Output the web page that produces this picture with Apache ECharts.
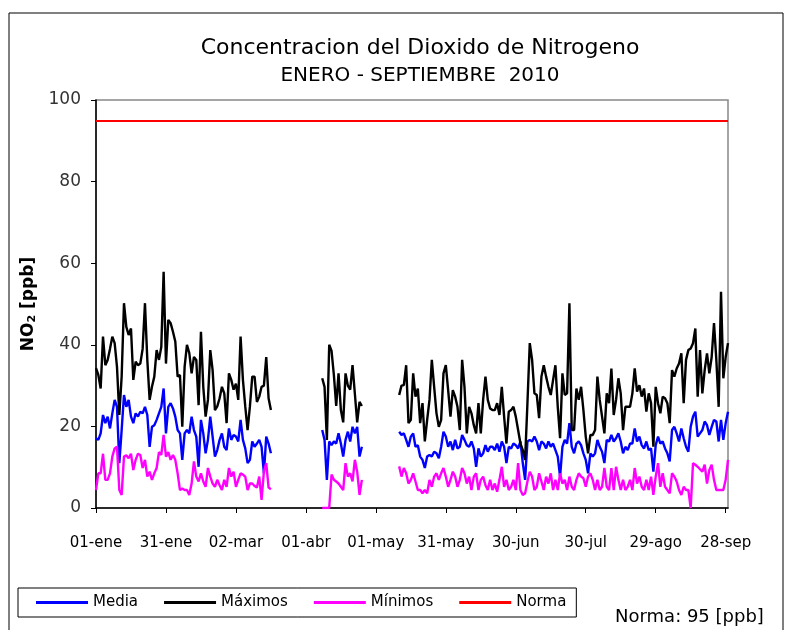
<!DOCTYPE html>
<html>
<head>
<meta charset="utf-8">
<script src="https://cdn.jsdelivr.net/npm/echarts@6/dist/echarts.min.js"></script>
<style>
  html, body { margin: 0; padding: 0; background: #fff; }
  #main { width: 787px; height: 630px; }
</style>
</head>
<body>
<div id="main"></div>
<script>
// dias desde 01-ene-2010 hasta 29-sep-2010
const startDate = new Date(2010, 0, 1);
const nDays = 272;
const monthNames = ['ene', 'feb', 'mar', 'abr', 'may', 'jun', 'jul', 'ago', 'sep'];
const tickLabels = ['01-ene', '31-ene', '02-mar', '01-abr', '01-may', '31-may', '30-jun', '30-jul', '29-ago', '28-sep'];

// primer dia (indice) de cada tramo con datos
const segStart = [0, 97, 130];

// Maximos
const maxEneMar = [34.3, 32.6, 29.3, 42, 35, 36.3, 39, 42, 40.4, 34.6,
  22.8, 32.2, 50.2, 44.4, 42.4, 44, 31.4, 35.9, 35, 35.4,
  39, 50.2, 36.3, 26.5, 29.7, 32.2, 38.7, 36.3, 39.5, 57.9,
  35.4, 46.1, 45.3, 43.2, 40.8, 32.2, 32.6, 19.9, 34.6, 40,
  38, 33, 37, 36.3, 25.2, 43.2, 29.7, 22.4, 26.5, 38.7,
  33.8, 24, 24.9, 26.9, 29.7, 28.1, 20.8, 33, 31.4, 29,
  30.5, 26.5, 42, 31.4, 24.9, 19.1, 24.9, 32.2, 32.2, 26,
  27.3, 29.7, 30, 37, 26.9, 24];
const maxAbr = [31.8, 29.7, 16.7, 40, 38.5, 32.6, 25, 33, 24, 21, 33, 30, 29, 35, 28, 21, 26, 25];
const maxMaySep = [27.7, 30,
  30.1, 35, 20.8, 21.6, 33, 27.3, 29.3, 20.8, 25.7, 16.3,
  21.6, 26.5, 36.3, 29.7, 23.2, 19.9, 21.6, 33, 35, 28.9,
  22.4, 28.9, 27.3, 24.8, 19.1, 36.3, 29.7, 18.3, 24.8, 23.2,
  20.3, 18.3, 25.7, 18.3, 26.5, 32.2, 26.5, 24.4, 24, 24,
  25.7, 22.8, 29.7, 22.4, 15.8, 23.6, 24, 24.8, 22.4, 19.1,
  15.8, 14.2, 11.8, 25.7, 40.4, 36.3, 28.1, 27.7, 22, 32.2,
  35, 32.2, 29.7, 27.7, 31.4, 35, 24.8, 17.1, 33, 27.7,
  28.1, 50.2,
  19.1, 19.1, 29.3, 26.5, 29.7, 24, 17.5, 13.4, 17.9, 17.9,
  19.1, 32.2, 26.5, 22.4, 18.3, 28.1, 25.7, 34.2, 22.8, 26.5,
  31.8, 28.1, 19.1, 24.8, 24.8, 24.8, 28.1, 34.2, 28.5, 30.1,
  27.3, 29.3, 23.6, 28.1, 25.7, 15, 29.7, 25.7, 23.2, 27.3,
  26.9, 25.7, 20.8, 33.8, 32.2, 34.2, 35.4, 37.9, 25.7, 36.3,
  38.7, 39.1, 40.4, 44, 27.3, 38.7, 28.1, 33.8, 37.9, 33,
  37, 45.3, 36.3, 24.8, 53, 31.8, 37, 40.4];

// Media
const medEneMar = [17.1, 16.7, 18.3, 22.8, 20.8, 22.4, 19.5, 23.2, 26.5, 24.8,
  11, 19.1, 27.7, 24.8, 26.5, 22.4, 20.8, 23.2, 22.4, 23.6,
  23.2, 24.8, 22.8, 15, 19.9, 20.3, 21.6, 23.2, 24.8, 29.3,
  18.3, 24.8, 25.7, 24.4, 22.4, 19.1, 18.3, 11.8, 18.3, 19.1,
  18.3, 22.4, 19.1, 17.5, 10.1, 21.6, 18.3, 13.4, 16.7, 22.4,
  17.5, 12.6, 14.2, 16.7, 18.3, 15, 14.2, 19.5, 16.7, 17.9,
  17.5, 16.3, 21.6, 16.7, 14.6, 11, 11.8, 16.3, 15, 15.8,
  16.7, 15, 8.5, 17.5, 15.8, 13.4];
const medAbr = [19.1, 16.7, 6.9, 16.3, 15.4, 16.3, 15.8, 18.3, 15.8, 12.6, 16.7, 18.7, 16.3, 19.9, 18.3, 19.9, 12.6, 15];
const medMaySep = [18.7, 17.9,
  18.3, 16.7, 15, 17.5, 18.3, 15, 15.4, 12.6, 11.8, 9.8,
  12.6, 13, 12.6, 13.8, 13.4, 12.2, 15, 18.7, 17.5, 15,
  16.3, 14.2, 16.7, 14.6, 15, 17.9, 16.7, 15.4, 15, 16.3,
  14.6, 10.1, 14.6, 12.6, 13.4, 15.4, 13.8, 15, 15, 14.2,
  15.8, 13.8, 16.3, 15, 11, 15, 14.6, 15.8, 15.4, 14.6,
  16.3, 11, 6.9, 16.3, 16.7, 16.3, 17.5, 16.3, 14.2, 16.3,
  15.8, 14.6, 16.3, 15, 15.8, 14.2, 12.6, 7.7, 15, 16.7,
  15.8, 20.8,
  15, 13.4, 15.8, 16.3, 15.4, 13.4, 11.8, 8.5, 13.4, 12.6,
  13.4, 16.7, 15, 13.8, 11, 16.7, 16.3, 17.9, 16.3, 17.1,
  18.3, 16.3, 13.4, 15, 14.2, 15.8, 15.8, 19.5, 16.3, 17.5,
  15.4, 14.6, 16.3, 14.2, 14.6, 8.9, 15.4, 17.5, 15.8, 16.3,
  14.6, 13.4, 11.4, 19.1, 19.9, 18.3, 16.3, 19.5, 17.1, 15,
  13.8, 19.9, 22.4, 23.6, 17.5, 18.3, 19.1, 21.2, 20.3, 17.9,
  19.9, 21.6, 21.2, 16.3, 21.6, 16.7, 20.8, 23.6];

// Minimos
const minEneMar = [4.4, 8.5, 8.5, 13.3, 6.9, 6.9, 8.5, 12.6, 14.6, 15,
  4.4, 3.2, 12.6, 12.9, 12.2, 13.3, 9.3, 11.8, 13.3, 13,
  9.8, 11.8, 7.7, 8.9, 6.9, 8.5, 9.8, 13.7, 13, 17.9,
  12.6, 13.7, 11.8, 13, 11.8, 8.5, 4.4, 4.8, 4.4, 4.4,
  3.2, 6, 11.4, 7.7, 6.5, 8.5, 6.5, 5.2, 9.8, 7.7,
  6, 5.2, 6.9, 5.6, 4.4, 6.9, 5.2, 9.8, 7.7, 8.9,
  5.2, 6.9, 8.5, 8.2, 7.7, 4.4, 6, 6, 5.4, 5,
  7.7, 2, 9, 11, 5, 4.6];
const minAbr = [0, 0, 0, 0, 8.2, 6.9, 6.5, 6, 5.2, 4.4, 11, 7.7, 8.5, 6.5, 11.8, 8.9, 3.2, 6.9];
const minMaySep = [10.2, 7.7,
  9.8, 8.5, 6, 6.9, 8.5, 6.5, 4.4, 4.4, 3.6, 4.4,
  3.6, 6.9, 5.2, 7.7, 8.5, 6.9, 8.5, 9.8, 7.7, 5.2,
  6.9, 8.9, 7.7, 5.2, 6.9, 9.8, 8.5, 6, 7.7, 4.4,
  7.7, 8.5, 4.4, 6.9, 7.7, 5.6, 4.4, 6.9, 4.4, 6,
  4, 6.9, 10.1, 5.2, 6.9, 4.4, 5.2, 6.9, 4.4, 11,
  4.4, 3.2, 3.6, 6.5, 8.9, 7.7, 4.4, 5.2, 8.5, 6.5,
  4.4, 7.7, 6, 8.5, 4.4, 6.9, 4.4, 8.5, 6, 6.9,
  4.4, 7.7,
  5.2, 4.4, 6.9, 8.5, 7.7, 7.3, 5.2, 7.7, 8.5, 6.9,
  4.4, 6.9, 4.4, 5.2, 9.8, 5.2, 4.4, 9.8, 4.4, 10.1,
  6.9, 4.4, 6.9, 4.4, 5.2, 6.9, 4.4, 9.8, 6, 7.7,
  5.2, 4.4, 6.9, 4.4, 7.7, 3.2, 7.7, 11, 5.2, 8.5,
  5.2, 4.4, 3.6, 8.5, 7.7, 6.5, 4.4, 3.2, 5.2, 4.4,
  4.4, 0, 11, 10.6, 10.1, 9.5, 8.9, 10.6, 6, 9.3,
  10.6, 6.9, 4.4, 4.4, 4.4, 4.4, 6.9, 11.8];

const normaValue = 95;

// fechas del eje
const categories = [];
for (let i = 0; i < nDays; i++) {
  const d = new Date(startDate.getTime() + i * 86400000);
  const dd = (d.getDate() < 10 ? '0' : '') + d.getDate();
  categories.push(dd + '-' + monthNames[d.getMonth()]);
}

// une los tramos dejando huecos (null) donde no hay medicion
function joinSegments(segs) {
  const out = new Array(nDays).fill(null);
  segs.forEach(function (seg, s) {
    for (let i = 0; i < seg.length; i++) out[segStart[s] + i] = seg[i];
  });
  return out;
}

const media = joinSegments([medEneMar, medAbr, medMaySep]);
const maximos = joinSegments([maxEneMar, maxAbr, maxMaySep]);
const minimos = joinSegments([minEneMar, minAbr, minMaySep]);

const font = '"DejaVu Sans", sans-serif';
let myChart = echarts.init(document.getElementById('main'));

function lineSerie(name, data, color) {
  return {
    name: name,
    type: 'line',
    data: data,
    symbol: 'none',
    connectNulls: false,
    lineStyle: { color: color, width: 2.4 },
    itemStyle: { color: color },
    animation: false
  };
}

let option = {
  backgroundColor: '#fff',
  animation: false,
  title: {
    text: '{a|Concentracion del Dioxido de Nitrogeno}\n{b|ENERO - SEPTIEMBRE  2010}',
    left: 415,
    top: 29,
    textAlign: 'center',
    textStyle: {
      fontWeight: 'normal',
      rich: {
        a: { fontFamily: font, fontSize: 22, fontWeight: 'normal', color: '#000', lineHeight: 28 },
        b: { fontFamily: font, fontSize: 20, fontWeight: 'normal', color: '#000', lineHeight: 28 }
      }
    }
  },
  graphic: [
    {
      type: 'rect',
      shape: { x: 9, y: 13, width: 774, height: 640 },
      style: { fill: 'none', stroke: '#000', lineWidth: 1 },
      silent: true
    },
    {
      type: 'text',
      left: 615,
      top: 608,
      style: { text: 'Norma: 95 [ppb]', font: '18px ' + font, fill: '#000' }
    }
  ],
  legend: {
    left: 18,
    top: 588,
    padding: [7, 10, 7, 18],
    borderColor: '#000',
    borderWidth: 1,
    itemWidth: 52,
    itemHeight: 3,
    itemGap: 26,
    icon: 'rect',
    textStyle: { fontFamily: font, fontSize: 15, color: '#000' },
    data: ['Media', 'Máximos', 'Mínimos', 'Norma']
  },
  grid: {
    left: 96,
    right: 59,
    top: 100,
    bottom: 122,
    show: true,
    borderColor: '#888',
    borderWidth: 1.5
  },
  xAxis: {
    type: 'category',
    data: categories,
    boundaryGap: false,
    axisLine: { lineStyle: { color: '#000', width: 1.5 } },
    axisTick: { interval: 29, length: 5, lineStyle: { color: '#000' } },
    axisLabel: {
      interval: function (idx, val) { return tickLabels.indexOf(val) >= 0; },
      margin: 28,
      fontFamily: font,
      fontSize: 15,
      color: '#000'
    },
    splitLine: { show: false }
  },
  yAxis: {
    type: 'value',
    min: 0,
    max: 100,
    interval: 20,
    name: '{b|NO}{s|2}{b| [ppb]}',
    nameLocation: 'middle',
    nameGap: 48,
    nameRotate: 90,
    nameTextStyle: {
      rich: {
        b: { fontFamily: font, fontSize: 17, fontWeight: 'bold', color: '#000' },
        s: { fontFamily: font, fontSize: 11, fontWeight: 'bold', color: '#000', verticalAlign: 'bottom', padding: [8, 0, 0, 0] }
      }
    },
    axisLine: { show: true, lineStyle: { color: '#000', width: 1.5 } },
    axisTick: { show: true, length: 5, lineStyle: { color: '#000' } },
    axisLabel: { margin: 15, fontFamily: font, fontSize: 17, color: '#333' },
    splitLine: { show: false }
  },
  series: [
    lineSerie('Media', media, '#0000ff'),
    lineSerie('Máximos', maximos, '#000000'),
    lineSerie('Mínimos', minimos, '#ff00ff'),
    {
      name: 'Norma',
      type: 'line',
      data: [],
      itemStyle: { color: '#ff0000' },
      lineStyle: { color: '#ff0000' },
      markLine: {
        silent: true,
        symbol: 'none',
        label: { show: false },
        lineStyle: { color: '#ff0000', width: 2, type: 'solid' },
        data: [{ yAxis: normaValue }]
      }
    }
  ]
};

option && myChart.setOption(option);
</script>
</body>
</html>
